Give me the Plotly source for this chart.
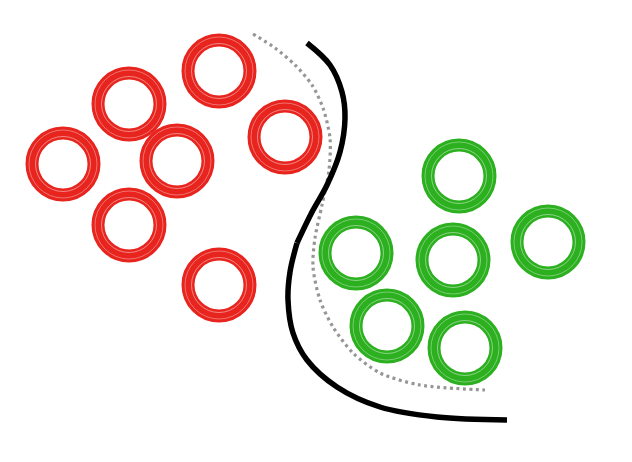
import plotly.graph_objects as go

# Ring centres (pixel coordinates of the picture, y downwards)
red_x = [219, 129, 285, 63, 177, 129, 219]
red_y = [71, 104, 137, 164, 161, 225, 285]
green_x = [459, 548, 356, 453, 387, 465]
green_y = [176, 242, 253, 260, 326, 348]

# Black boundary, upper part and lower part (corner at the join)
black_top_x = [307, 330, 342, 345, 340, 327, 312, 297]
black_top_y = [43, 65, 92, 118, 152, 185, 212, 243]
black_low_x = [297, 290, 288, 293, 307, 337, 380, 437, 507]
black_low_y = [243, 272, 300, 333, 360, 387, 407, 417, 420]

# Gray dotted boundary
gray_x = [253, 275, 295, 312, 323, 330, 329, 322, 315, 313, 320, 333, 353, 380, 420, 485]
gray_y = [34, 48, 65, 85, 108, 138, 170, 205, 238, 267, 300, 327, 353, 373, 385, 390]

RED = 'rgb(232,36,30)'
GREEN = 'rgb(44,176,32)'

fig = go.Figure()

fig.add_trace(go.Scatter(x=gray_x, y=gray_y, mode='lines', line_shape='spline',
                         line=dict(color='rgb(150,150,150)', width=3.2, dash='3px,3.5px',
                                   smoothing=0.8)))
for xs, ys in [(black_top_x, black_top_y), (black_low_x, black_low_y)]:
    fig.add_trace(go.Scatter(x=xs, y=ys, mode='lines', line_shape='spline',
                             line=dict(color='black', width=5.5)))

for xs, ys, c in [(red_x, red_y, RED), (green_x, green_y, GREEN)]:
    fig.add_trace(go.Scatter(x=xs, y=ys, mode='markers',
                             marker=dict(symbol='circle-open', size=62, color=c,
                                         line=dict(color=c, width=13))))
    # light streaks to hint at the hand-drawn texture
    for s, o in [(55, 0.45), (68, 0.35)]:
        fig.add_trace(go.Scatter(x=xs, y=ys, mode='markers',
                                 marker=dict(symbol='circle-open', size=s, color='white',
                                             opacity=o, line=dict(color='white', width=1))))

# page body has an 8px margin, so the plot starts at (8, 8)
fig.update_xaxes(range=[8, 624], visible=False)
fig.update_yaxes(range=[454, 8], visible=False)
fig.update_layout(width=616, height=446, margin=dict(l=0, r=0, t=0, b=0),
                  showlegend=False, plot_bgcolor='white', paper_bgcolor='white')

fig.write_html("out.html")
